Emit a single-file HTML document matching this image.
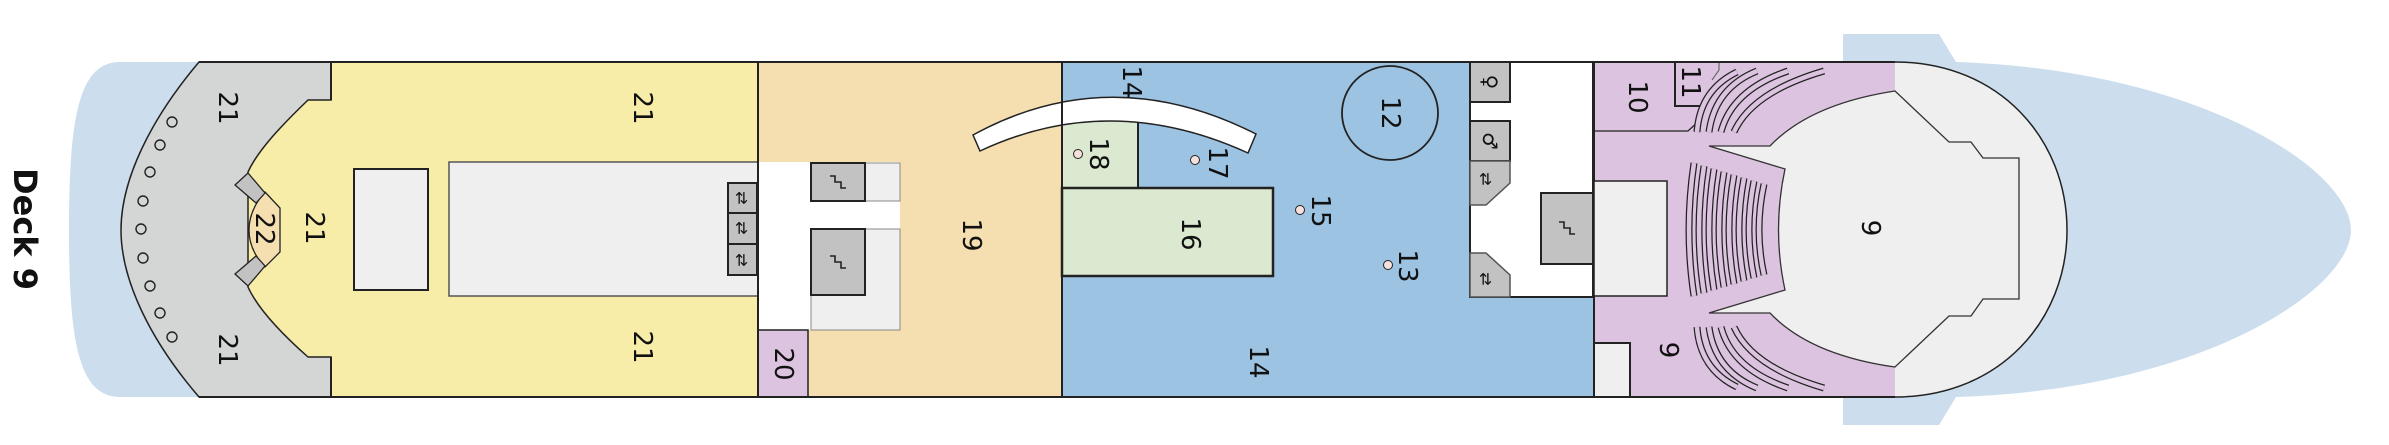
<!DOCTYPE html>
<html><head><meta charset="utf-8"><style>
html,body{margin:0;padding:0;background:#fff;width:2389px;height:445px;overflow:hidden}
svg{display:block}
text{font-family:"DejaVu Sans","Liberation Sans",sans-serif;fill:#111}
</style></head><body>
<svg width="2389" height="445" viewBox="0 0 2389 445" xmlns="http://www.w3.org/2000/svg">
<defs>
<g id="stair"><path d="M-8,-6 h5 v6 h6 v6 h5" stroke="#222" stroke-width="1.6" fill="none"/></g>
</defs>
<!-- stern blue -->
<path d="M205,62 L120,62 C78,62 69,120 69,230 C69,340 78,397 120,397 L205,397 Z" fill="#ccdeed"/>
<!-- bow blue -->
<path d="M1843,34 L1939,34 L1956,62 C2200,70 2351,170 2351,230 C2351,290 2200,390 1956,397 L1939,425 L1843,425 Z" fill="#ccdeed"/>
<!-- yellow -->
<rect x="199" y="62" width="560" height="335" fill="#f7eca8"/>
<!-- gray stern -->
<path d="M199,62 L331,62 L331,100 L308,100 C282,125 258,150 248,172 L248,287 C258,309 282,334 308,357 L331,357 L331,397 L199,397 C150,340 121,280 121,230 C121,180 150,120 199,62 Z" fill="#d4d5d5" stroke="#222" stroke-width="1.5"/>
<path d="M331,62 V100 M331,357 V397" stroke="#222" stroke-width="2"/>
<!-- 22 -->
<path d="M265,192 L280,208 L280,252 L265,267 Q249,250 249,230 Q249,210 265,192 Z" fill="#f5dfb0" stroke="#222" stroke-width="1.3"/>
<path d="M248,173 L265,193 L256,203 L235,185 Z" fill="#c2c2c2" stroke="#222" stroke-width="1.3"/>
<path d="M248,286 L265,266 L256,256 L235,274 Z" fill="#c2c2c2" stroke="#222" stroke-width="1.3"/>
<!-- circles -->
<g fill="none" stroke="#222" stroke-width="1.4">
<circle cx="172" cy="122" r="5"/><circle cx="160" cy="145" r="5"/><circle cx="150" cy="172" r="5"/><circle cx="143" cy="201" r="5"/><circle cx="141" cy="229" r="5"/><circle cx="143" cy="258" r="5"/><circle cx="150" cy="286" r="5"/><circle cx="160" cy="313" r="5"/><circle cx="172" cy="337" r="5"/>
</g>
<rect x="354" y="169" width="74" height="121" fill="#efefef" stroke="#222" stroke-width="2"/>
<rect x="449" y="162" width="309" height="134" fill="#efefef" stroke="#555" stroke-width="1.5"/>
<g>
<rect x="728" y="183" width="29" height="30" fill="#c2c2c2" stroke="#222" stroke-width="2"/>
<rect x="728" y="213" width="29" height="31" fill="#c2c2c2" stroke="#222" stroke-width="2"/>
<rect x="728" y="244" width="29" height="31" fill="#c2c2c2" stroke="#222" stroke-width="2"/>
<text x="742" y="198" font-size="16" text-anchor="middle" dominant-baseline="central" transform="rotate(90 742 198)">⇄</text>
<text x="742" y="228" font-size="16" text-anchor="middle" dominant-baseline="central" transform="rotate(90 742 228)">⇄</text>
<text x="742" y="260" font-size="16" text-anchor="middle" dominant-baseline="central" transform="rotate(90 742 260)">⇄</text>
</g>
<!-- orange -->
<rect x="758" y="62" width="304" height="335" fill="#f5dfb0"/>
<rect x="758" y="162" width="142" height="168" fill="#fff"/>
<rect x="811" y="163" width="89" height="38" fill="#efefef" stroke="#888" stroke-width="1"/>
<rect x="811" y="163" width="54" height="38" fill="#c2c2c2" stroke="#222" stroke-width="2"/>
<rect x="811" y="229" width="89" height="101" fill="#efefef" stroke="#888" stroke-width="1"/>
<rect x="811" y="229" width="54" height="66" fill="#c2c2c2" stroke="#222" stroke-width="2"/>
<use href="#stair" x="838" y="182"/><use href="#stair" x="838" y="262"/>
<rect x="758" y="330" width="50" height="67" fill="#dcc3df" stroke="#222" stroke-width="1.5"/>
<!-- blue -->
<rect x="1062" y="62" width="532" height="335" fill="#9dc3e3" stroke="#222" stroke-width="2"/>
<rect x="1062" y="120" width="76" height="68" fill="#dae9d0" stroke="#222" stroke-width="2"/>
<rect x="1062" y="188" width="211" height="88" fill="#dae9d0" stroke="#222" stroke-width="2.5"/>
<path d="M973,135 Q1110,60 1256,134 L1248,153 Q1110,90 980,151 Z" fill="#fff" stroke="#222" stroke-width="1.5"/>
<ellipse cx="1390" cy="113" rx="48" ry="47" fill="none" stroke="#222" stroke-width="1.8"/>
<g fill="#f6e0dc" stroke="#222" stroke-width="1"><circle cx="1078" cy="154" r="4.5"/><circle cx="1195" cy="160" r="4.5"/><circle cx="1300" cy="210" r="4.5"/><circle cx="1388" cy="265" r="4.5"/></g>
<!-- WC area -->
<rect x="1470" y="62" width="123" height="235" fill="#fff" stroke="#222" stroke-width="2"/>
<rect x="1470" y="62" width="40" height="40" fill="#c2c2c2" stroke="#222" stroke-width="2"/>
<rect x="1470" y="121" width="40" height="40" fill="#c2c2c2" stroke="#222" stroke-width="2"/>
<path d="M1470,161 H1510 V183 L1486,205 H1470 Z" fill="#c2c2c2" stroke="#555" stroke-width="1.5"/>
<path d="M1470,297 H1510 V275 L1486,253 H1470 Z" fill="#c2c2c2" stroke="#555" stroke-width="1.5"/>
<rect x="1541" y="193" width="52" height="71" fill="#c2c2c2" stroke="#222" stroke-width="2"/>
<use href="#stair" x="1567" y="228"/>
<text x="1490" y="82" font-size="20" text-anchor="middle" dominant-baseline="central" transform="rotate(90 1490 82)">♀</text>
<text x="1490" y="141" font-size="20" text-anchor="middle" dominant-baseline="central" transform="rotate(90 1490 141)">♂</text>
<text x="1486" y="179" font-size="16" text-anchor="middle" dominant-baseline="central" transform="rotate(90 1486 179)">⇄</text>
<text x="1486" y="279" font-size="16" text-anchor="middle" dominant-baseline="central" transform="rotate(90 1486 279)">⇄</text>
<!-- purple -->
<rect x="1594" y="62" width="301" height="335" fill="#dcc3df"/>
<path d="M1594,62 V397" stroke="#222" stroke-width="2"/>
<path d="M1594,131 H1688 L1700,120" stroke="#222" stroke-width="1.3" fill="none"/>
<path d="M1675,62 V106 H1700" stroke="#222" stroke-width="2" fill="none"/>
<path d="M1719,62 V70 L1712,80" stroke="#555" stroke-width="1" fill="none"/>
<rect x="1594" y="181" width="73" height="115" fill="#efefef" stroke="#222" stroke-width="1.5"/>
<rect x="1594" y="343" width="36" height="54" fill="#efefef" stroke="#222" stroke-width="2"/>
<!-- stage outer -->
<path d="M1895,62 C2000,62 2067,140 2067,230 C2067,320 2000,397 1895,397 Z" fill="#efefef"/>
<path d="M1895,62 C2000,62 2067,140 2067,230 C2067,320 2000,397 1895,397" fill="none" stroke="#222" stroke-width="1.5"/>
<!-- audience floor -->
<path d="M1895,91 L1949,142 L1971,142 L1983,158 L2019,158 L2019,299 L1983,299 L1971,316 L1949,316 L1895,367 Q1810,355 1770,313 L1709,313 L1785,290 Q1772,230 1785,169 L1709,146 L1770,146 Q1810,104 1895,91 Z" fill="#efefef" stroke="#333" stroke-width="1.3"/>
<!-- seats -->
<g fill="none">
<g stroke="#222" stroke-width="7" stroke-linecap="butt">
<path d="M1697,132 Q1700,90 1737,72"/><path d="M1709,132 Q1715,88 1757,71"/><path d="M1721,132 Q1732,90 1788,71"/><path d="M1734,132 Q1752,92 1824,71"/>
<path d="M1697,327 Q1700,369 1737,387"/><path d="M1709,327 Q1715,371 1757,388"/><path d="M1721,327 Q1732,369 1788,388"/><path d="M1734,327 Q1752,367 1824,388"/>
<path d="M1694,163 Q1684,230 1694,296"/><path d="M1704,166 Q1694,230 1704,293"/><path d="M1714,169 Q1704,230 1714,290"/><path d="M1724,172 Q1714,230 1724,287"/><path d="M1734,175 Q1724,230 1734,284"/><path d="M1744,178 Q1734,230 1744,281"/><path d="M1754,181 Q1744,230 1754,278"/><path d="M1764,184 Q1754,230 1764,275"/>
</g>
<g stroke="#dcc3df" stroke-width="4.5">
<path d="M1697,132 Q1700,90 1737,72"/><path d="M1709,132 Q1715,88 1757,71"/><path d="M1721,132 Q1732,90 1788,71"/><path d="M1734,132 Q1752,92 1824,71"/>
<path d="M1697,327 Q1700,369 1737,387"/><path d="M1709,327 Q1715,371 1757,388"/><path d="M1721,327 Q1732,369 1788,388"/><path d="M1734,327 Q1752,367 1824,388"/>
<path d="M1694,163 Q1684,230 1694,296"/><path d="M1704,166 Q1694,230 1704,293"/><path d="M1714,169 Q1704,230 1714,290"/><path d="M1724,172 Q1714,230 1724,287"/><path d="M1734,175 Q1724,230 1734,284"/><path d="M1744,178 Q1734,230 1744,281"/><path d="M1754,181 Q1744,230 1754,278"/><path d="M1764,184 Q1754,230 1764,275"/>
</g>
</g>
<!-- outlines -->
<path d="M199,62 H1895 M199,397 H1895" stroke="#222" stroke-width="2"/>
<path d="M758,62 V397 M1062,62 V397" stroke="#222" stroke-width="2"/>
<!-- labels -->
<g font-size="26" text-anchor="middle" dominant-baseline="central">
<text x="227" y="108" transform="rotate(90 227 108)">21</text>
<text x="227" y="350" transform="rotate(90 227 350)">21</text>
<text x="642" y="108" transform="rotate(90 642 108)">21</text>
<text x="642" y="347" transform="rotate(90 642 347)">21</text>
<text x="314" y="228" transform="rotate(90 314 228)">21</text>
<text x="264" y="229" transform="rotate(90 264 229)">22</text>
<text x="783" y="364" transform="rotate(90 783 364)">20</text>
<text x="971" y="235" transform="rotate(90 971 235)">19</text>
<text x="1131" y="82" transform="rotate(90 1131 82)">14</text>
<text x="1258" y="362" transform="rotate(90 1258 362)">14</text>
<text x="1390" y="113" transform="rotate(90 1390 113)">12</text>
<text x="1098" y="154" transform="rotate(90 1098 154)">18</text>
<text x="1217" y="163" transform="rotate(90 1217 163)">17</text>
<text x="1320" y="211" transform="rotate(90 1320 211)">15</text>
<text x="1407" y="266" transform="rotate(90 1407 266)">13</text>
<text x="1190" y="234" transform="rotate(90 1190 234)">16</text>
<text x="1637" y="97" transform="rotate(90 1637 97)">10</text>
<text x="1690" y="82" transform="rotate(90 1690 82)">11</text>
<text x="1668" y="350" transform="rotate(90 1668 350)">9</text>
<text x="1870" y="228" transform="rotate(90 1870 228)">9</text>
</g>
<text x="25" y="229" font-size="32" font-weight="bold" text-anchor="middle" dominant-baseline="central" transform="rotate(90 25 229)">Deck 9</text>
</svg>
</body></html>
